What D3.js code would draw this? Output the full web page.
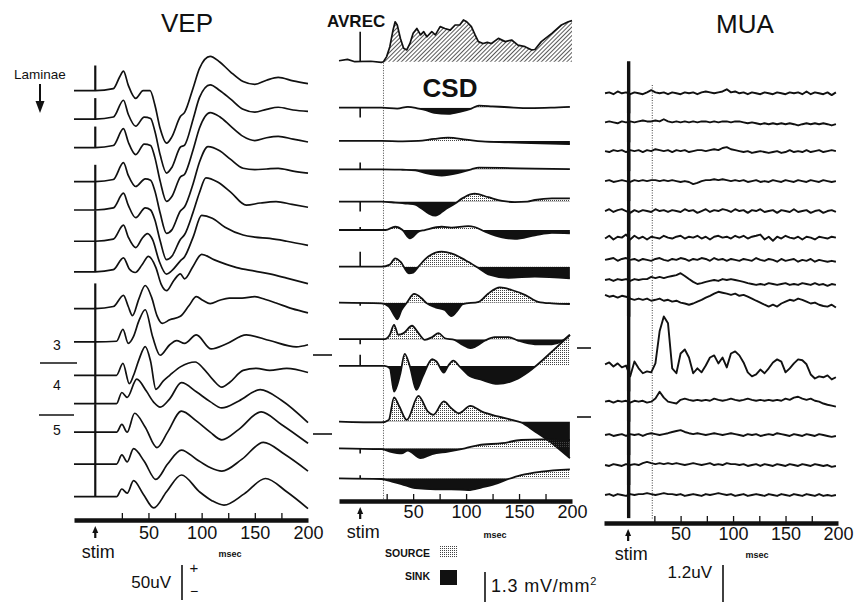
<!DOCTYPE html>
<html lang="en">
<head>
<meta charset="UTF-8" />
<script src="https://d3js.org/d3.v7.min.js"></script>
<style>
  body { margin: 0; background: #fff; }
  svg { display: block; font-family: "Liberation Sans", Arial, Helvetica, sans-serif; }
  .trace { fill: none; stroke: #111; stroke-width: 1.7; stroke-linejoin: round; }
  .mua { fill: none; stroke: #111; stroke-width: 1.9; stroke-linejoin: round; }
</style>
</head>
<body>
<svg id="chart" width="857" height="603"></svg>
<script>
// ---------- data ----------
// VEP: [ms, uV] key points per channel (top = superficial)
var vepTraces = [
  [[-20,0],[0,0],[17,3],[23,20],[26.5,28],[31,8],[38,-11],[45,0],[51.5,0],[56,-20],[61,-54],[67,-75],[72,-66],[80,-37],[84,-31],[92,4],[98,32],[108,49],[117,41],[127,27],[139,13],[150,9],[161,15],[172,19],[186,14],[200,10]],
  [[-20,0],[0,0],[17,3],[26.5,27],[31,7],[38,-10],[46,3],[52,1],[56,-17],[61,-51],[67,-77],[72,-69],[80,-40],[84,-37],[92,0],[98,31],[108,49],[117,41],[127,29],[139,14],[150,10],[161,14],[172,17],[186,13],[200,11]],
  [[-20,0],[0,0],[17,3],[26.5,27],[31,8],[38,-10],[46,5],[52,3],[56,-14],[61,-48],[67,-77],[72,-70],[80,-42],[84,-38],[92,-3],[98,28],[108,50],[117,44],[127,31],[139,16],[150,10],[161,14],[172,16],[186,12],[200,8]],
  [[-20,0],[0,0],[17,3],[26.5,27],[31,9],[38,-7],[47,4],[52,2],[56,-13],[61,-45],[67,-74],[72,-69],[80,-42],[84,-36],[92,-3],[98,28],[106,50],[117,44],[127,32],[139,19],[150,17],[161,18],[172,19],[186,15],[200,12]],
  [[-20,0],[0,0],[17,3],[26.5,24],[31,7],[38,-11],[47,3],[52,0],[56,-14],[61,-44],[67,-71],[72,-66],[80,-42],[84,-35],[92,-3],[98,25],[104,46],[115,40],[127,26],[142,7],[155,10],[170,12],[185,8],[200,4]],
  [[-20,0],[0,0],[17,3],[26.5,23],[31,6],[38,-9],[44,4],[49,11],[54,2],[60,-28],[67,-47],[72,-42],[80,-28],[84,-22],[92,6],[100,37],[110,33],[122,20],[139,9],[150,6],[164,4],[180,0],[200,-6]],
  [[-20,0],[0,0],[17,3],[26.5,20],[32,4],[37.5,-1],[44,10],[50,22],[57,6],[62,-18],[67,-27],[74,-12],[80,-3],[84,-10],[92,8],[100,25],[112,17],[133,6],[150,1],[164,-3],[180,-9],[200,-17]],
  [[-20,0],[0,0],[17,3],[26.5,19],[31,3],[35,-10],[41,14],[47,33],[53,16],[58,-10],[63,-21],[70,-16],[80,-11],[88,4],[95,17],[101,12],[108,7],[117,12],[126,15],[138,15],[150,17],[160,13],[170,8],[185,0],[200,-6]],
  [[-20,0],[0,0],[20,1],[26,18],[31,-2],[36,8],[41,30],[47,46],[54,7],[61,-19],[70,-4],[76.5,2],[84,-2],[95,10],[109,-10],[123,-3],[142,10],[164,2],[189,-7],[200,-4]],
  [[-20,0],[0,0],[20,0],[26,17],[32,-12],[36,0],[41,22],[47,41],[52,20],[57,-20],[64,-8],[70,0],[80,12],[94,19],[101.5,10],[111,-7],[119,-17],[126.5,-10],[139,7],[151.5,10],[164,7],[180,10],[200,4]],
  [[-20,0],[0,0],[20,0],[25,16],[30,9],[39,35],[48,18],[55,2],[61,-5],[70,7],[81,30],[95,17],[108,3],[119,-6],[135,4],[155,20],[175,5],[200,-27]],
  [[-20,0],[0,0],[20,0],[25,11],[30,0],[37,27],[47,7],[58,-22],[68,0],[81,30],[95,16],[108,0],[119,-11],[135,4],[156,29],[175,11],[200,-16]],
  [[-20,0],[0,0],[20,0],[25,13],[30,3],[36,22],[46,4],[57,-22],[68,0],[81,20],[95,7],[108,-5],[119,-10],[138,7],[158,31],[178,14],[200,-10]],
  [[-20,0],[0,0],[20,0],[25,11],[30,5],[36,23],[45,4],[55,-16],[67,7],[81,31],[98,7],[110,-6],[121,-12],[140,4],[160,26],[180,7],[200,-17]]
];
var vepLevel = [0, 4, 8, 4, 8, 8, 9, 1, -2, -5, -1, 3, 2, 0];        // uV, DC level
var vepArtifact = [36, 30, 30, 24, 40, 44, 44, 36, 49, 48, 41, 40, 46, 47]; // uV, stim artifact

// AVREC: [ms, mV/mm2]
var avrec = [[-20,0.04],[-12,0.1],[-5,0],[10,0.02],[20,-0.03],[22,0],[25,0.22],[28,0.65],[31,1.37],[33,1.73],[35,1.59],[38,1.01],[41,0.58],[44,0.51],[47,0.79],[50,1.23],[53.5,1.44],[57,1.16],[60,1.3],[63,1.08],[67.6,1.3],[71,1.16],[75.5,1.52],[80,1.44],[85,1.37],[89.6,1.59],[94,1.59],[97.5,1.81],[100.6,1.73],[105,1.52],[108.5,1.16],[111.6,0.87],[116,0.79],[120,0.84],[124,0.79],[130.5,1.01],[137,0.87],[143,0.94],[149,0.72],[155.7,0.65],[162,0.51],[165,0.53],[171,0.87],[181,1.23],[190,1.59],[196.5,1.73],[200,1.78]];
var avrecArtifact = 1.3;

// CSD: [ms, mV/mm2] per channel; + = source, - = sink
var csdTraces = [
  [[-20,0],[20,0],[35,-0.04],[45,0.04],[55,-0.04],[62,-0.11],[70,-0.22],[83,-0.27],[95,-0.17],[105,-0.04],[112,0.09],[125,0.06],[140,0.02],[160,-0.02],[180,0],[198,0.04]],
  [[-20,0],[20,0],[40,-0.02],[55,0],[70,0.09],[83,0.14],[100,0.06],[115,-0.02],[140,-0.06],[170,-0.11],[198,-0.14]],
  [[-20,0],[20,0],[40,-0.02],[52,-0.04],[62,-0.17],[77,-0.27],[92,-0.17],[105,0],[112,0.07],[134,0.06],[165,0.03],[198,0.01]],
  [[-20,0],[20,0],[33,-0.04],[45,-0.09],[52,-0.13],[58,-0.3],[65,-0.52],[71,-0.61],[80,-0.35],[90,-0.07],[96,0.13],[105,0.33],[108,0.35],[121,0.19],[134,0.03],[146,-0.02],[158,0],[165,0.07],[181,0.14],[198,0.14]],
  [[-20,0],[24,0],[33,0.14],[40,0],[47,-0.36],[55,-0.07],[61,0],[77,0.14],[86,0.1],[102,0.17],[108,0.13],[118,-0.07],[134,-0.32],[146,-0.38],[165,-0.23],[181,-0.12],[198,-0.14]],
  [[-20,0],[20,0],[28,0.09],[33,0.36],[38,0.22],[46,-0.29],[50,-0.26],[55,0],[64,0.43],[77,0.65],[86,0.58],[99,0.29],[112,-0.07],[121,-0.33],[140,-0.48],[165,-0.43],[198,-0.51]],
  [[-20,0],[20,-0.03],[27,-0.17],[33,-0.61],[35,-0.72],[39,-0.32],[44,0],[51,0.38],[58,0.19],[63,-0.03],[71,-0.2],[80,-0.32],[86,-0.58],[91,-0.39],[97,-0.06],[112,0.04],[121,0.4],[132,0.66],[143,0.55],[156,0.33],[168,0.04],[181,-0.03],[198,-0.06]],
  [[-20,0],[23,0],[28,0.19],[32,0.62],[36,0.19],[41,0.26],[49,0.58],[55,0.26],[61,-0.03],[68,0.09],[74,0.26],[80,0.04],[89,-0.03],[97,-0.25],[104,-0.39],[109,-0.32],[118,-0.06],[127,0.09],[140,0.09],[149,-0.06],[165,-0.22],[181,-0.22],[190,-0.1],[198,0.19]],
  [[-20,0],[23,0],[28,-0.1],[32,-1.11],[38,-0.32],[42,0.52],[47,-0.03],[53,-1.04],[59,-0.46],[68,0.29],[72,0.19],[79,-0.29],[83,0],[88,0.23],[94,-0.03],[102,-0.39],[115,-0.61],[130,-0.78],[146,-0.61],[159,-0.25],[167,0.04],[181,0.62],[198,1.34]],
  [[-20,0],[20,-0.04],[27,0.07],[32,1.05],[37,0.65],[44,0.07],[55,1.11],[64,0.43],[69,0.29],[79,0.87],[86,0.58],[93,0.36],[104,0.68],[115,0.43],[130,0.22],[143,0.07],[152,-0.04],[165,-0.43],[181,-0.94],[198,-1.59]],
  [[-20,0],[20,-0.04],[28,-0.14],[39,-0.22],[45,-0.1],[57,-0.43],[68,-0.25],[83,-0.14],[99,0],[112,0.14],[134,0.22],[152,0.36],[171,0.39],[190,0.36],[198,0.36]],
  [[-20,0],[20,-0.03],[30,-0.14],[39,-0.25],[52,-0.43],[71,-0.48],[86,-0.48],[102,-0.51],[115,-0.39],[127,-0.25],[140,-0.03],[152,0.14],[171,0.29],[198,0.39]]
];
var csdLevel = [0, 0.02, 0.25, 0.31, 0.54, 0.41, 0.31, 0.19, 0.49, -0.46, -0.16, 0];
var csdArtifact = [-0.43, 0, 0.3, -0.43, 0.13, 0.65, -0.13, -0.22, 0.48, 0, -0.22, 0.13];

// MUA: uV sampled every 4 ms from -22 to 198 ms
var muaTraces = [
  [0,.03,-.03,.06,0,.03,-.03,.03, 0,-.03,.03,.1,.03,0,.03,-.03, .03,0,-.03,.03,0,.03,-.03,.03, .06,.03,0,.03,.06,.13,.03,.06, 0,.03,-.03,.03,0,-.03,.03,0, -.03,.03,0,-.03,.03,0,.03,-.03, .06,-.03,.03,0,-.03,.03,-.06,.03],
  [0,.03,0,-.03,.03,0,.03,0, .03,.06,.03,.03,.06,.03,.1,.03, 0,.03,0,.03,0,.03,0,.03, .03,0,.03,0,.03,.03,0,.03, .03,0,-.03,0,-.03,-.06,-.03,-.06, -.03,-.06,-.03,-.06,-.03,-.06,-.1,-.06, -.03,-.06,-.03,-.06,-.03,-.06,-.1,-.06],
  [0,-.03,.03,0,.03,-.03,.03,0, .03,-.03,.03,0,.06,.03,0,.03, -.03,.03,0,.03,-.03,0,.03,.03, 0,.03,.06,.03,.1,.13,.06,.03, 0,-.03,0,-.06,-.03,0,-.03,-.06, -.03,0,-.06,-.03,.03,-.03,0,-.03, .03,-.03,0,.03,-.03,0,.03,0],
  [0,.03,-.03,0,.03,0,-.03,.03, 0,.03,0,.03,.03,0,.03,0, .03,0,-.03,0,-.03,-.1,-.06,0, .03,.03,.06,.03,.06,.03,0,.03, 0,.03,-.03,0,.03,-.03,0,-.03, .03,0,-.03,.03,0,-.03,.03,0, -.03,.03,0,-.03,.03,0,-.03,0],
  [0,.06,-.03,.03,.06,0,-.06,.03, -.03,.03,0,-.03,.06,0,.03,-.03, .03,0,-.03,.06,0,.03,-.06,0, .06,-.03,.03,0,.06,.03,-.03,.06, 0,.03,-.06,.03,0,.06,-.03,0, .03,-.06,.03,0,-.03,.06,-.03,0, .03,-.06,0,.03,-.06,0,.03,-.03],
  [-.03,.06,-.06,.03,0,.1,-.06,.06, -.03,.03,-.06,.03,0,-.03,.06,0, -.03,.03,.06,-.03,.03,0,.06,-.03, .03,-.06,.03,.06,0,.03,-.03,.06, 0,.06,-.03,.03,.06,.1,-.06,.03, -.1,.03,-.03,.06,0,-.03,.03,-.06, .03,0,-.06,.03,0,-.03,.03,0],
  [0,.03,.06,-.03,.03,.06,0,.03, -.03,.03,0,-.03,.03,.06,0,-.03, .03,0,.06,.03,-.03,.03,0,.06, .03,-.03,.06,0,.03,-.03,.03,0, -.03,.03,0,-.03,.06,0,-.03,.03, 0,-.06,.03,-.03,0,.03,-.06,0, -.03,.03,-.06,0,-.03,-.06,-.03,-.06],
  [0,.03,-.03,.03,0,.03,-.03,.03, 0,.03,.03,.1,.06,.1,.06,.1, .13,.16,.22,.13,.03,-.06,-.13,-.1, -.06,-.03,0,-.03,.03,0,.03,0, -.03,-.06,-.1,-.13,-.16,-.13,-.16,-.1, -.13,-.16,-.13,-.1,-.16,-.13,-.16,-.1, -.13,-.16,-.1,-.16,-.13,-.19,-.13,-.16],
  [.06,0,.03,-.03,.03,0,-.06,-.1, -.06,-.1,-.06,-.13,-.1,-.06,-.13,-.1, -.16,-.13,-.19,-.22,-.26,-.22,-.16,-.1, -.03,.03,.1,.16,.13,.1,.06,.1, .03,.06,0,-.06,-.13,-.19,-.26,-.32, -.26,-.32,-.22,-.16,-.1,-.13,-.06,-.1, -.16,-.22,-.19,-.26,-.3,-.32,-.26,-.35],
  [.23,.29,.16,.26,.13,.19,-.16,.32, .1,-.06,0,-.03,.26,1.3,1.78,1.56, .1,-.06,.58,.71,.45,-.06,.1,-.03, .19,.45,.52,.26,.45,.13,.58,.65, .52,.29,-.03,-.16,-.1,.06,-.06,.1, .29,.39,.32,-.03,.1,.26,.39,.36, .23,-.1,-.23,-.16,-.19,-.13,-.26,-.19],
  [0,.03,-.03,.03,0,.03,-.03,.03, 0,.03,-.03,0,.1,.32,.13,0, -.03,-.06,.06,.1,.06,.03,.06,.03, .06,.03,.1,.06,.03,.06,.1,.06, .03,.06,.1,.06,.03,.06,.03,.06, .03,.06,.03,.1,.06,.13,.16,.1, .06,.1,.03,0,-.06,-.1,-.13,-.16],
  [0,.03,-.03,0,.03,-.03,.03,0, .03,-.03,.03,.06,.03,0,.03,.06, .1,.13,.16,.1,.06,.03,.06,.03, 0,.03,.06,.03,0,.03,.06,.03, 0,-.03,.03,0,.03,-.03,0,.03, 0,.06,.03,0,-.03,.03,0,-.03, .03,0,-.03,.03,0,-.03,-.06,-.03],
  [0,-.03,.03,0,-.03,.03,0,.03, 0,.06,.1,.06,.03,.06,.03,.06, .03,.06,.03,0,.03,.06,.03,0, .03,.06,0,.03,0,.06,.03,.03, 0,.03,-.03,0,.03,-.03,.03,0, -.03,.03,0,-.03,.03,0,-.03,.03, 0,-.03,.03,0,-.03,0,-.06,-.03],
  [0,.03,-.03,.03,0,-.03,.03,0, .03,.03,.06,.03,0,.03,.06,.03, .03,0,.03,-.03,0,.03,0,-.03, .03,0,.03,.06,.03,0,.03,-.03, 0,.03,-.03,0,.03,0,-.03,.03, 0,-.03,.03,0,-.03,.03,0,-.03, .03,0,-.03,.03,-.03,0,-.03,0]
];
var muaLevel = [0, 0.06, 0.13, 0.16, 0.19, 0.33, 0.61, 0.96, 1.42, 0, 0.02, -0.06, -0.03, 0];
var muaArtUp = [1.04, 0.94, 0.94, 0.97, 0.97, 0.87, 0.72, 0.62, 0.52, 2.42, 1.0, 1.07, 0.97, 0.97];
var muaArtDown = [0.65, 0.65, 0.65, 0.65, 0.65, 0.65, 0.65, 0.65, 0.65, 0.65, 0.65, 0.65, 0.65, 0.75];

var tickMs = [25, 50, 75, 100, 125, 150, 175];
var labelMs = [50, 100, 150, 200];

// ---------- drawing ----------
var svg = d3.select("#chart");
var ink = "#111";
var font = '"Liberation Sans", Arial, Helvetica, sans-serif';

var defs = svg.append("defs");
var dots = defs.append("pattern").attr("id", "dots")
  .attr("width", 2).attr("height", 2).attr("patternUnits", "userSpaceOnUse");
dots.append("rect").attr("width", 1).attr("height", 1).attr("fill", "#444");
var hatch = defs.append("pattern").attr("id", "hatch")
  .attr("width", 3).attr("height", 3).attr("patternUnits", "userSpaceOnUse")
  .attr("patternTransform", "rotate(45)");
hatch.append("line").attr("x1", 0).attr("y1", 0).attr("x2", 0).attr("y2", 3)
  .attr("stroke", ink).attr("stroke-width", 1.4);

function txt(x, y, s, size, anchor, weight) {
  return svg.append("text").attr("x", x).attr("y", y).text(s)
    .attr("font-size", size).attr("text-anchor", anchor || "middle")
    .attr("font-weight", weight || "normal").attr("fill", ink);
}

// time axis: thick bar, up ticks, labels, stim arrow
function timeAxis(x, y, pad, stimY, msecX, msecY) {
  var g = svg.append("g").attr("transform", "translate(0," + y + ")");
  g.call(d3.axisTop(x).tickValues(tickMs).tickSize(7).tickSizeOuter(0).tickFormat(""));
  g.select(".domain").attr("stroke", ink).attr("stroke-width", 4.5);
  g.selectAll(".tick line").attr("stroke", ink).attr("stroke-width", 1.3);
  var l = svg.append("g").attr("transform", "translate(0," + y + ")")
    .call(d3.axisBottom(x).tickValues(labelMs).tickSize(0).tickPadding(pad));
  l.select(".domain").remove();
  l.selectAll("text").attr("font-size", 18).attr("font-family", font).attr("fill", ink);
  var x0 = x(0);
  svg.append("path")
    .attr("d", "M" + (x0 - 3) + "," + (y + 13) + "L" + x0 + "," + (y + 6) + "L" + (x0 + 3) + "," + (y + 13) + "Z")
    .attr("fill", ink);
  svg.append("line").attr("x1", x0).attr("x2", x0).attr("y1", y + 10).attr("y2", y + 18)
    .attr("stroke", ink).attr("stroke-width", 2.2);
  txt(x0 + 3, stimY, "stim", 18);
  txt(msecX, msecY, "msec", 9, "middle", "bold");
}

// ----- VEP -----
var vepX = d3.scaleLinear().domain([-20, 200]).range([74, 308]);
var vepRow = d3.scaleLinear().domain([0, vepTraces.length - 1]).range([90.7, 496.7]);
var vepAmp = d3.scaleLinear().domain([0, 50]).range([0, 35]);
function vepY(ch, v) { return vepRow(ch) - vepAmp(vepLevel[ch] + v); }
var smooth = d3.line().curve(d3.curveMonotoneX);

vepTraces.forEach(function (tr, ch) {
  svg.append("path").attr("class", "trace")
    .attr("d", smooth(tr.map(function (p) { return [vepX(p[0]), vepY(ch, p[1])]; })));
  svg.append("line").attr("x1", vepX(0)).attr("x2", vepX(0))
    .attr("y1", vepY(ch, 0)).attr("y2", vepY(ch, vepArtifact[ch]))
    .attr("stroke", ink).attr("stroke-width", 2.2);
});
timeAxis(vepX, 520, 6, 558, 230, 557);
txt(187, 32, "VEP", 26);

// laminae
txt(40, 79, "Laminae", 13.5);
svg.append("line").attr("x1", 40).attr("x2", 40).attr("y1", 84).attr("y2", 104)
  .attr("stroke", ink).attr("stroke-width", 2);
svg.append("path").attr("d", "M35.5,101L44.5,101L40,113Z").attr("fill", ink);
txt(57, 350, "3", 14);
txt(57, 390, "4", 14);
txt(57, 435, "5", 14);
[[40, 77, 363], [39, 74, 415], [313, 332, 355], [313, 332, 434], [577, 591, 348], [577, 591, 417]]
  .forEach(function (d) {
    svg.append("line").attr("x1", d[0]).attr("x2", d[1]).attr("y1", d[2]).attr("y2", d[2])
      .attr("stroke", ink).attr("stroke-width", 1.6);
  });

// VEP scale bar
var vepBarTop = 565;
svg.append("line").attr("x1", 182).attr("x2", 182)
  .attr("y1", vepBarTop).attr("y2", vepBarTop + vepAmp(50))
  .attr("stroke", ink).attr("stroke-width", 1.6);
txt(171, 588, "50uV", 17, "end");
txt(194, 573, "+", 15);
txt(194, 596, "\u2212", 14);

// ----- CSD + AVREC -----
var csdX = d3.scaleLinear().domain([-20, 200]).range([339, 572]);
var csdRow = d3.scaleLinear().domain([0, csdTraces.length - 1]).range([107.7, 478.3]);
var csdAmp = d3.scaleLinear().domain([0, 1.3]).range([0, 30]);

var avrecBase = 61.7;
var avPts = avrec.map(function (p) { return [csdX(p[0]), avrecBase - csdAmp(p[1])]; });
var avArea = d3.area().x(function (d) { return d[0]; }).y0(avrecBase).y1(function (d) { return d[1]; });
svg.append("path")
  .attr("d", avArea(avPts.filter(function (d, i) { return avrec[i][0] >= 22; })))
  .attr("fill", "url(#hatch)");
svg.append("path").attr("class", "trace").attr("d", d3.line()(avPts));
svg.append("line").attr("x1", csdX(0)).attr("x2", csdX(0))
  .attr("y1", avrecBase).attr("y2", avrecBase - csdAmp(avrecArtifact))
  .attr("stroke", ink).attr("stroke-width", 1.6);
txt(327, 27, "AVREC", 17, "start", "bold");
txt(450, 97, "CSD", 26, "middle", "bold");

// stimulus latency marker
svg.append("line").attr("x1", csdX(22)).attr("x2", csdX(22))
  .attr("y1", avrecBase + 1).attr("y2", 499)
  .attr("stroke", "#444").attr("stroke-width", 1).attr("stroke-dasharray", "1,1.5");

csdTraces.forEach(function (tr, ch) {
  var base = csdRow(ch) - csdAmp(csdLevel[ch]);
  var pts = tr.map(function (p) { return [csdX(p[0]), base - csdAmp(p[1])]; });
  defs.append("clipPath").attr("id", "src" + ch).append("rect")
    .attr("x", 330).attr("y", 0).attr("width", 260).attr("height", base);
  defs.append("clipPath").attr("id", "snk" + ch).append("rect")
    .attr("x", 330).attr("y", base).attr("width", 260).attr("height", 603 - base);
  var area = d3.area().curve(d3.curveMonotoneX)
    .x(function (d) { return d[0]; }).y0(base).y1(function (d) { return d[1]; });
  svg.append("path").attr("d", area(pts)).attr("fill", "url(#dots)")
    .attr("clip-path", "url(#src" + ch + ")");
  svg.append("path").attr("d", area(pts)).attr("fill", ink)
    .attr("clip-path", "url(#snk" + ch + ")");
  svg.append("path").attr("class", "trace").style("stroke-width", 1.8).attr("d", smooth(pts));
  if (csdArtifact[ch] !== 0) {
    svg.append("line").attr("x1", csdX(0)).attr("x2", csdX(0))
      .attr("y1", base).attr("y2", base - csdAmp(csdArtifact[ch]))
      .attr("stroke", ink).attr("stroke-width", 1.6);
  }
});
timeAxis(csdX, 501, 4, 538, 495, 538);

// CSD legend + scale
txt(430, 557, "SOURCE", 10.5, "end", "bold");
svg.append("rect").attr("x", 440).attr("y", 545).attr("width", 17).attr("height", 13).attr("fill", "url(#dots)");
txt(430, 580, "SINK", 10.5, "end", "bold");
svg.append("rect").attr("x", 440).attr("y", 570).attr("width", 17).attr("height", 15).attr("fill", ink);
svg.append("line").attr("x1", 485).attr("x2", 485).attr("y1", 572).attr("y2", 572 + csdAmp(1.3))
  .attr("stroke", ink).attr("stroke-width", 1.6);
var unit = txt(491, 592, "1.3 mV/mm", 18, "start").attr("letter-spacing", 0.8);
unit.append("tspan").attr("dy", -7).attr("font-size", 11).text("2");

// ----- MUA -----
var muaX = d3.scaleLinear().domain([-23, 200]).range([604, 838]);
var muaRow = d3.scaleLinear().domain([0, muaTraces.length - 1]).range([93.3, 495]);
var muaAmp = d3.scaleLinear().domain([0, 1.2]).range([0, 37]);
var muaTimes = d3.range(-22, 199, 4);

svg.append("line").attr("x1", muaX(23)).attr("x2", muaX(23))
  .attr("y1", 85).attr("y2", 520)
  .attr("stroke", "#444").attr("stroke-width", 1).attr("stroke-dasharray", "1,1.5");

muaTraces.forEach(function (vals, ch) {
  var base = muaRow(ch) - muaAmp(muaLevel[ch]);
  var pts = vals.map(function (v, i) { return [muaX(muaTimes[i]), base - muaAmp(v)]; });
  svg.append("path").attr("class", "mua").attr("d", d3.line()(pts));
  svg.append("line").attr("x1", muaX(0.5)).attr("x2", muaX(0.5))
    .attr("y1", base - muaAmp(muaArtUp[ch])).attr("y2", base + muaAmp(muaArtDown[ch]))
    .attr("stroke", ink).attr("stroke-width", 3.4);
});
timeAxis(muaX, 523, 4, 560, 757, 558);
txt(745, 33, "MUA", 26);

svg.append("line").attr("x1", 723).attr("x2", 723).attr("y1", 565).attr("y2", 565 + muaAmp(1.2))
  .attr("stroke", ink).attr("stroke-width", 1.6);
txt(712, 578, "1.2uV", 17, "end");
</script>
</body>
</html>
